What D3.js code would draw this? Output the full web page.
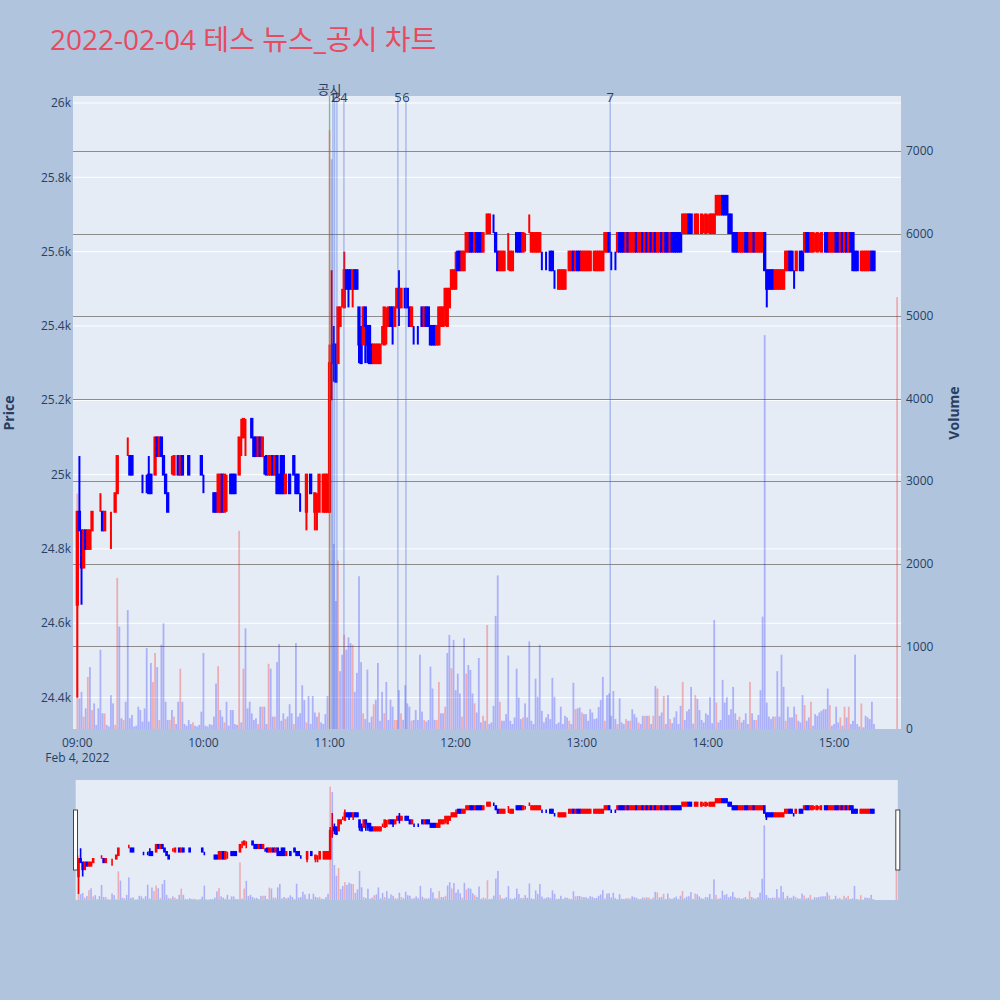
<!DOCTYPE html>
<html><head><meta charset="utf-8">
<script src="https://cdn.jsdelivr.net/npm/d3@7"></script>
<style>body{margin:0;background:#b0c4de;}svg{display:block;}</style>
</head><body>
<svg id="chart" width="1000" height="1000"></svg>
<script>
// ---- data (1-minute candles from 09:00, last one = 15:30 closing auction) ----
const sessionStart = "09:00";
const closingAuctionTime = "15:30";
const openP = [
24650,24900,24850,24750,24850,24800,24800,24850,24900,24900,
24900,24900,24900,24850,24900,24900,24900,24900,24900,24950,
25050,25050,25100,25100,25100,25050,25050,25000,25000,25000,
25000,25000,25000,25000,25000,25000,25000,25000,25100,25050,
25100,25050,25000,24950,25000,25000,25000,25050,25050,25000,
25050,25000,25000,25050,25000,25050,25050,25050,25050,25050,
25000,25000,24950,24950,24950,24950,24950,24900,24900,25000,
24900,25000,25000,25000,25000,25000,24950,25000,25100,25100,
25150,25150,25150,25150,25100,25100,25050,25100,25050,25050,
25050,25000,25000,25050,25000,25050,25000,25050,25050,24950,
25000,25000,24950,25050,25000,25000,24950,24950,24950,24900,
25000,25000,24950,24900,24950,24900,25000,24900,24900,24900,
24900,25300,25350,25350,25300,25400,25450,25450,25550,25550,
25550,25500,25550,25550,25450,25350,25350,25450,25400,25400,
25350,25300,25300,25300,25300,25350,25350,25450,25400,25450,
25450,25400,25450,25500,25450,25500,25500,25500,25450,25400,
25400,25400,25400,25400,25450,25400,25450,25450,25400,25400,
25400,25350,25350,25400,25400,25450,25400,25450,25500,25500,
25500,25600,25600,25550,25550,25600,25600,25650,25650,25600,
25650,25650,25650,25600,25650,25650,25650,25700,25650,25650,
25600,25550,25550,25550,25600,25600,25550,25550,25600,25650,
25650,25650,25600,25650,25650,25650,25600,25600,25600,25600,
25600,25600,25600,25600,25600,25600,25600,25550,25550,25500,
25500,25500,25500,25550,25550,25550,25600,25550,25600,25600,
25550,25550,25550,25550,25550,25600,25550,25550,25550,25550,
25550,25600,25600,25650,25600,25600,25600,25600,25650,25650,
25650,25600,25650,25600,25600,25600,25650,25600,25600,25650,
25600,25650,25600,25650,25600,25650,25600,25600,25650,25600,
25650,25650,25600,25650,25650,25650,25650,25650,25650,25650,
25650,25700,25700,25650,25650,25650,25700,25650,25700,25650,
25700,25650,25650,25650,25700,25700,25700,25750,25750,25750,
25700,25700,25650,25650,25650,25600,25600,25600,25650,25650,
25600,25600,25650,25600,25600,25600,25600,25650,25550,25550,
25550,25550,25500,25500,25500,25500,25500,25550,25550,25600,
25600,25550,25550,25600,25600,25600,25600,25650,25650,25600,
25600,25650,25600,25650,25600,25650,25650,25650,25600,25600,
25600,25650,25650,25600,25650,25600,25650,25600,25650,25650,
25600,25600,25550,25550,25550,25550,25550,25550,25600,25600,
25600];
const highP = [
24900,25050,24850,24850,24850,24850,24850,24900,24900,24900,
24900,24950,24900,24900,24900,24900,24900,24900,24950,25050,
25050,25050,25100,25100,25100,25050,25050,25000,25000,25000,
25000,25000,25000,25000,25050,25000,25000,25100,25100,25100,
25100,25050,25000,24950,25000,25050,25050,25050,25050,25050,
25050,25000,25000,25050,25000,25050,25050,25050,25050,25050,
25000,25000,24950,24950,24950,24950,24950,25000,25000,25000,
25000,25000,25000,25000,25000,25000,24950,25100,25150,25150,
25150,25150,25150,25150,25100,25100,25100,25100,25100,25050,
25050,25050,25050,25050,25050,25050,25000,25050,25050,25000,
25000,25000,24950,25050,25000,25000,24950,24950,24950,25000,
25000,25000,24950,24950,24950,25000,25000,25000,25000,25000,
25350,25550,25400,25350,25450,25450,25500,25600,25550,25550,
25550,25550,25550,25550,25450,25400,25450,25450,25400,25400,
25350,25350,25350,25350,25350,25400,25450,25450,25450,25450,
25450,25450,25500,25550,25500,25500,25500,25500,25450,25450,
25400,25400,25400,25400,25450,25450,25450,25450,25400,25400,
25400,25400,25450,25450,25450,25500,25500,25500,25550,25550,
25600,25600,25600,25600,25600,25650,25650,25650,25650,25650,
25650,25650,25650,25650,25650,25700,25700,25700,25700,25650,
25600,25600,25600,25600,25600,25650,25600,25600,25600,25650,
25650,25650,25650,25650,25650,25700,25650,25650,25650,25650,
25650,25600,25600,25600,25600,25600,25600,25550,25550,25550,
25550,25550,25550,25550,25600,25600,25600,25600,25600,25600,
25600,25600,25600,25600,25600,25600,25600,25600,25600,25600,
25600,25650,25650,25650,25600,25600,25600,25650,25650,25650,
25650,25650,25650,25650,25650,25650,25650,25650,25650,25650,
25650,25650,25650,25650,25650,25650,25650,25650,25650,25650,
25650,25650,25650,25650,25650,25650,25650,25650,25700,25700,
25700,25700,25700,25650,25700,25700,25700,25700,25700,25700,
25700,25700,25700,25700,25750,25750,25750,25750,25750,25750,
25700,25700,25650,25650,25650,25650,25650,25650,25650,25650,
25650,25650,25650,25650,25650,25650,25650,25650,25550,25550,
25550,25550,25550,25550,25550,25550,25550,25600,25600,25600,
25600,25550,25600,25600,25600,25600,25650,25650,25650,25650,
25650,25650,25650,25650,25650,25650,25650,25650,25650,25650,
25650,25650,25650,25650,25650,25650,25650,25650,25650,25650,
25600,25600,25550,25600,25600,25600,25600,25600,25600,25600,
25600];
const lowP = [
24400,24850,24650,24750,24800,24800,24800,24850,24900,24900,
24900,24900,24850,24850,24900,24900,24800,24900,24900,24950,
25050,25050,25100,25100,25050,25000,25000,25000,25000,25000,
25000,24950,25000,24950,24950,24950,25000,25000,25050,25050,
25050,25000,24950,24900,25000,25000,25000,25050,25000,25000,
25000,25000,25000,25000,25000,25050,25050,25050,25050,25000,
24950,25000,24950,24950,24950,24900,24900,24900,24900,24900,
24900,24900,25000,24950,24950,24950,24950,25000,25050,25100,
25050,25150,25150,25100,25050,25050,25050,25050,25050,25000,
25000,25000,25000,25000,25000,24950,24950,24950,24950,24950,
25000,24950,24950,25000,24950,24950,24900,24950,24950,24850,
25000,24950,24950,24850,24850,24900,25000,24900,24900,24900,
24900,25200,25250,25250,25300,25400,25450,25450,25500,25450,
25500,25450,25500,25500,25300,25300,25350,25300,25300,25300,
25300,25300,25300,25300,25300,25350,25350,25350,25400,25400,
25350,25400,25450,25400,25450,25500,25450,25450,25400,25400,
25350,25400,25350,25400,25400,25400,25400,25400,25350,25350,
25350,25350,25350,25400,25400,25400,25400,25450,25500,25500,
25500,25550,25550,25550,25550,25600,25600,25600,25600,25600,
25600,25600,25600,25600,25650,25650,25650,25700,25650,25600,
25550,25550,25550,25550,25600,25550,25550,25550,25600,25600,
25600,25600,25600,25600,25650,25650,25600,25600,25600,25600,
25600,25550,25600,25550,25600,25550,25550,25500,25550,25500,
25500,25500,25500,25550,25550,25550,25550,25550,25550,25550,
25550,25550,25550,25550,25550,25600,25550,25550,25550,25550,
25550,25600,25600,25600,25550,25600,25550,25600,25600,25600,
25600,25600,25600,25600,25600,25600,25600,25600,25600,25600,
25600,25600,25600,25600,25600,25600,25600,25600,25600,25600,
25600,25600,25600,25600,25600,25600,25600,25600,25650,25650,
25650,25650,25650,25650,25650,25650,25700,25650,25650,25650,
25650,25650,25650,25650,25700,25700,25700,25700,25700,25700,
25650,25650,25600,25600,25600,25600,25600,25600,25600,25600,
25600,25600,25600,25600,25600,25600,25600,25550,25450,25500,
25500,25500,25500,25500,25500,25500,25500,25550,25550,25550,
25550,25500,25550,25600,25550,25550,25600,25600,25600,25600,
25600,25600,25600,25600,25600,25650,25600,25600,25600,25600,
25600,25600,25600,25600,25600,25600,25600,25600,25600,25550,
25550,25550,25550,25550,25550,25550,25550,25550,25550,25550,
25600];
const closeP = [
24900,24850,24750,24850,24800,24850,24850,24900,24900,24900,
24900,24900,24850,24900,24900,24900,24900,24900,24950,25050,
25050,25050,25100,25100,25100,25000,25000,25000,25000,25000,
25000,25000,25000,25000,24950,24950,25000,25100,25050,25100,
25050,25000,24950,24900,25000,25000,25050,25050,25000,25050,
25000,25000,25000,25000,25000,25050,25050,25050,25050,25000,
25000,25000,24950,24950,24950,24900,24900,25000,25000,24900,
25000,25000,25000,24950,24950,24950,24950,25100,25100,25150,
25150,25150,25150,25100,25050,25050,25100,25050,25100,25050,
25000,25050,25050,25000,25050,24950,24950,24950,24950,25000,
25000,24950,24950,25000,24950,24950,24950,24950,24950,25000,
25000,24950,24950,24950,24950,25000,25000,25000,25000,25000,
25300,25300,25300,25250,25450,25450,25450,25550,25500,25500,
25500,25550,25500,25500,25350,25300,25450,25400,25350,25300,
25300,25350,25350,25350,25350,25350,25450,25450,25450,25400,
25400,25450,25500,25450,25500,25500,25450,25450,25400,25450,
25400,25400,25400,25400,25400,25450,25400,25400,25350,25350,
25350,25400,25450,25450,25450,25500,25500,25500,25550,25550,
25550,25550,25550,25600,25600,25650,25650,25600,25600,25650,
25600,25600,25600,25650,25650,25700,25700,25700,25650,25600,
25550,25600,25600,25600,25600,25600,25600,25600,25600,25600,
25600,25600,25650,25650,25650,25650,25650,25650,25650,25650,
25650,25600,25600,25600,25600,25550,25550,25550,25550,25550,
25550,25550,25550,25550,25600,25600,25550,25600,25550,25550,
25600,25600,25600,25600,25600,25600,25600,25600,25600,25600,
25600,25650,25650,25600,25600,25600,25600,25650,25600,25600,
25600,25650,25600,25650,25650,25650,25600,25650,25650,25600,
25650,25600,25650,25600,25650,25600,25650,25650,25600,25650,
25600,25600,25650,25600,25600,25600,25600,25600,25700,25700,
25700,25650,25650,25650,25700,25700,25700,25700,25700,25700,
25700,25700,25700,25700,25750,25750,25750,25700,25700,25700,
25650,25650,25600,25600,25600,25650,25650,25650,25600,25600,
25650,25650,25600,25650,25650,25650,25650,25550,25500,25500,
25500,25500,25550,25550,25550,25550,25550,25600,25600,25550,
25550,25550,25600,25600,25550,25550,25650,25600,25600,25650,
25650,25650,25650,25650,25650,25650,25600,25600,25650,25650,
25650,25600,25600,25650,25600,25650,25600,25650,25600,25550,
25550,25550,25550,25600,25600,25600,25600,25600,25550,25550,
25600];
const volume = [
2850,370,450,150,250,630,750,230,310,50,
250,960,190,190,50,30,410,310,50,1830,
1240,130,110,330,1440,130,170,30,40,270,
230,90,250,980,90,800,570,920,750,110,
1020,1280,330,110,110,230,150,60,330,730,
330,60,40,110,60,80,40,30,50,210,
920,40,30,60,50,150,550,760,230,150,
80,330,40,230,230,60,50,2400,80,730,
1220,250,330,190,110,130,60,270,270,270,
60,790,730,150,150,810,1030,100,190,120,
150,300,190,60,1040,150,190,530,350,80,
400,60,400,200,150,200,80,60,180,400,
7250,6900,2240,1550,2040,700,900,1140,960,1110,
1040,1020,450,680,1850,810,190,120,720,80,
150,300,355,800,100,450,190,570,110,355,
270,110,110,470,190,110,530,310,270,100,
110,230,110,900,210,110,90,110,755,490,
110,110,570,190,190,270,920,1140,735,1080,
470,670,430,150,1100,670,775,715,430,310,
200,860,80,160,100,1260,60,80,280,1370,
1860,330,100,100,180,890,100,60,140,730,
380,120,140,310,140,1060,100,60,610,390,
1020,220,80,140,180,120,620,390,60,80,
270,60,160,140,100,60,560,240,250,260,
200,180,180,100,240,200,120,130,266,350,
630,100,410,430,160,460,120,60,370,80,
60,120,100,100,240,180,140,80,60,160,
160,160,160,60,160,520,490,160,200,400,
60,410,120,70,140,215,60,280,570,110,
215,240,510,64,410,365,230,110,80,190,
170,385,70,1320,320,80,110,595,320,385,
170,240,510,190,110,150,80,110,190,60,
570,190,110,110,170,470,1360,4770,320,150,
120,150,150,700,150,900,510,100,270,140,
140,270,180,100,80,410,290,100,140,330,
40,180,160,200,220,240,240,490,290,40,
60,270,80,140,40,270,140,270,60,100,
900,60,30,310,20,160,140,120,330,60,
5230];
const newsTimes  = ["11:00:00","11:01:35","11:02:25","11:03:30","11:06:50","11:32:30","11:36:20","13:13:30"];
const newsLabels = ["공시","1","2","3","4","5","6","7"];
const priceTicks = [24400,24600,24800,25000,25200,25400,25600,25800,26000];
const volumeTicks = [0,1000,2000,3000,4000,5000,6000,7000];
const timeTicks = ["09:00","10:00","11:00","12:00","13:00","14:00","15:00"];
const titleText = "2022-02-04 테스 뉴스_공시 차트";

// ---- helpers ----
const FONT = "'Open Sans','Noto Sans CJK KR',sans-serif";
const TXT = "#2a3f5f";
const parseT = s => { const p = s.split(":").map(Number); return new Date(2022,1,4,p[0],p[1],p[2]||0); };
const n = openP.length;
const times = openP.map((_,i) => i < n-1 ? d3.timeMinute.offset(parseT(sessionStart), i) : parseT(closingAuctionTime));

// candle direction (plotly rule)
let inc = true, cPrev = null;
const up = closeP.map((c,i) => { const o = openP[i];
  if (c !== o) inc = c > o; else if (cPrev !== null && c !== cPrev) inc = c > cPrev;
  cPrev = c; return inc; });
const volUp = closeP.map((c,i) => i === 0 ? true : c > closeP[i-1]);

const svg = d3.select("#chart");
const P = {l:73, r:901, t:96, b:729};
const S = {l:75.7, r:897.8, t:780, b:900};

const x = d3.scaleTime()
  .domain([d3.timeSecond.offset(times[0], -123), d3.timeSecond.offset(times[n-1], 111)])
  .range([P.l, P.r]);
const yP = d3.scaleLinear().domain([24315.5, 26018.8]).range([P.b, P.t]);
const yV = d3.scaleLinear().domain([0, 7666]).range([P.b, P.t]);

svg.append("rect").attr("width",1000).attr("height",1000).attr("fill","#b0c4de");

// title
svg.append("text").attr("x",50).attr("y",50).attr("font-family",FONT).attr("font-size",28)
  .attr("fill","#e84a5f").text(titleText);

// plot bg
svg.append("rect").attr("x",P.l).attr("y",P.t).attr("width",P.r-P.l).attr("height",P.b-P.t).attr("fill","#e5ecf6");
const defs = svg.append("defs");
defs.append("clipPath").attr("id","clipMain").append("rect").attr("x",P.l).attr("y",P.t).attr("width",P.r-P.l).attr("height",P.b-P.t);
defs.append("clipPath").attr("id","clipSl").append("rect").attr("x",S.l).attr("y",S.t).attr("width",S.r-S.l).attr("height",S.b-S.t);

// grids
const grid = svg.append("g");
grid.selectAll("line.pg").data(priceTicks).join("line").attr("class","pg")
  .attr("x1",P.l).attr("x2",P.r).attr("y1",d=>yP(d)).attr("y2",d=>yP(d)).attr("stroke","#fff").attr("stroke-width",1);
grid.selectAll("line.vg").data(volumeTicks.slice(1)).join("line").attr("class","vg")
  .attr("x1",P.l).attr("x2",P.r).attr("y1",d=>Math.round(yV(d))+0.5).attr("y2",d=>Math.round(yV(d))+0.5)
  .attr("stroke","#8c8c8c").attr("stroke-width",1);

function drawCandles(g, xs, yp, bodyW, lw){
  const idx = d3.range(n);
  g.selectAll("line.w").data(idx).join("line").attr("class","w")
    .attr("x1",i=>xs(times[i])).attr("x2",i=>xs(times[i]))
    .attr("y1",i=>yp(highP[i])).attr("y2",i=>yp(lowP[i]))
    .attr("stroke",i=>up[i]?"#ff0000":"#0000ff").attr("stroke-width",lw);
  g.selectAll("rect.b").data(idx).join("rect").attr("class","b")
    .attr("x",i=>xs(times[i])-bodyW/2).attr("width",bodyW)
    .attr("y",i=>yp(Math.max(openP[i],closeP[i])))
    .attr("height",i=>Math.abs(yp(openP[i])-yp(closeP[i])))
    .attr("fill",i=>up[i]?"#ff0000":"#0000ff")
    .attr("stroke",i=>up[i]?"#ff0000":"#0000ff").attr("stroke-width",lw);
}
function drawVolume(g, xs, yv, w){
  g.selectAll("rect.v").data(d3.range(n)).join("rect").attr("class","v")
    .attr("x",i=>xs(times[i])-w/2).attr("width",w)
    .attr("y",i=>yv(volume[i])).attr("height",i=>yv(0)-yv(volume[i]))
    .attr("fill",i=>volUp[i]?"rgba(255,0,0,0.27)":"rgba(0,0,255,0.25)");
}

const main = svg.append("g").attr("clip-path","url(#clipMain)");
drawCandles(main.append("g"), x, yP, 1.3, 2);
drawVolume(main.append("g"), x, yV, 1.8);

// news lines
const news = main.append("g");
news.selectAll("line").data(newsTimes).join("line")
  .attr("x1",d=>x(parseT(d))).attr("x2",d=>x(parseT(d))).attr("y1",P.t).attr("y2",P.b)
  .attr("stroke",(d,i)=>i===0?"rgba(70,150,60,0.6)":"rgba(65,105,225,0.4)").attr("stroke-width",1.4);
svg.append("g").selectAll("text").data(newsTimes).join("text")
  .attr("x",d=>x(parseT(d))).attr("y",(d,i)=>i===0?94:101.5).attr("text-anchor","middle")
  .attr("font-family",FONT).attr("font-size",13).attr("fill",TXT).text((d,i)=>newsLabels[i]);

// axes labels
const ax = svg.append("g").attr("font-family",FONT).attr("font-size",12).attr("fill",TXT);
ax.selectAll("text.pl").data(priceTicks).join("text").attr("class","pl")
  .attr("x",71).attr("y",d=>yP(d)+4.2).attr("text-anchor","end").text(d=>d3.format("~s")(d));
ax.selectAll("text.vl").data(volumeTicks).join("text").attr("class","vl")
  .attr("x",906).attr("y",d=>yV(d)+4.2).attr("text-anchor","start").text(d=>d);
ax.selectAll("text.tl").data(timeTicks).join("text").attr("class","tl")
  .attr("x",d=>x(parseT(d))).attr("y",746.5).attr("text-anchor","middle").text(d=>d);
ax.append("text").attr("x",x(parseT(timeTicks[0]))).attr("y",762).attr("text-anchor","middle").text("Feb 4, 2022");
ax.append("text").attr("transform","translate(14,413) rotate(-90)").attr("text-anchor","middle")
  .attr("font-size",14).attr("font-weight","bold").text("Price");
ax.append("text").attr("transform","translate(959,413) rotate(-90)").attr("text-anchor","middle")
  .attr("font-size",14).attr("font-weight","bold").text("Volume");

// range slider
svg.append("rect").attr("x",S.l).attr("y",S.t).attr("width",S.r-S.l).attr("height",S.b-S.t).attr("fill","#e5ecf6");
const x2 = x.copy().range([S.l-1.5, S.r+2.5]);
const yP2 = yP.copy().range([S.b, S.t]);
const yV2 = yV.copy().range([S.b, S.t]);
const sl = svg.append("g").attr("clip-path","url(#clipSl)");
drawCandles(sl.append("g"), x2, yP2, 1.0, 1.6);
drawVolume(sl.append("g"), x2, yV2, 1.6);
[[S.l-2.2],[S.r-2]].forEach(([hx]) => {
  svg.append("rect").attr("x",hx).attr("y",810).attr("width",4).attr("height",60)
    .attr("fill","#fff").attr("stroke","#444").attr("stroke-width",1);
});
</script>
</body></html>
